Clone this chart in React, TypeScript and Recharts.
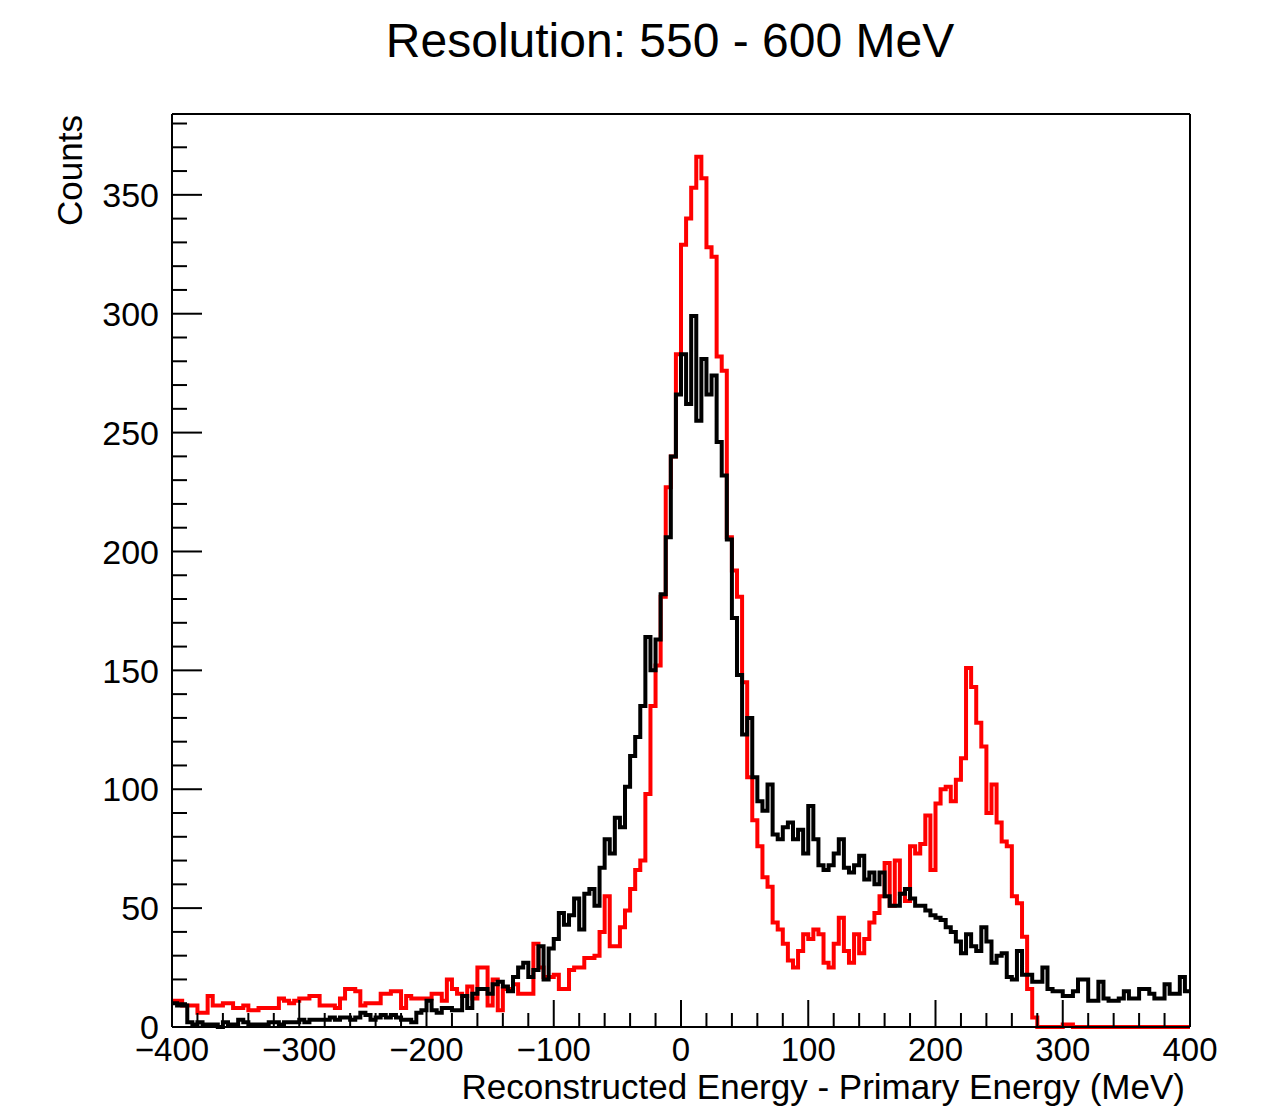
import { LineChart, Line, XAxis, YAxis, ReferenceLine } from "recharts";

// 4 MeV bins from -400 to 400 MeV
const BIN_START = -400;
const BIN_WIDTH = 4;

const RED_COUNTS = [
  11, 11, 9, 9, 9, 6, 6, 13, 9, 9, 10, 10, 8, 8, 9, 7, 7, 8, 8, 8,
  8, 12, 11, 10, 11, 12, 12, 13, 13, 9, 9, 9, 8, 12, 16, 16, 15, 9, 10, 10,
  10, 14, 14, 15, 15, 8, 13, 12, 12, 12, 12, 14, 14, 11, 20, 16, 14, 13, 17, 12,
  25, 25, 9, 20, 7, 16, 16, 18, 14, 14, 14, 35, 25, 21, 21, 22, 16, 16, 24, 25,
  25, 29, 29, 30, 40, 55, 34, 34, 42, 49, 58, 66, 70, 98, 135, 152, 181, 227, 240, 283,
  329, 340, 353, 366, 357, 328, 324, 282, 276, 206, 192, 181, 145, 105, 87, 76, 63, 59, 44, 41,
  35, 28, 25, 32, 39, 37, 41, 39, 27, 25, 35, 46, 32, 27, 39, 31, 37, 44, 48, 55,
  69, 51, 70, 56, 53, 76, 73, 77, 89, 66, 94, 100, 101, 95, 104, 113, 151, 143, 128, 118,
  90, 102, 86, 78, 76, 55, 52, 38, 16, 4, 0, 0, 0, 0, 0, 1, 1, 0, 0, 0,
  0, 0, 0, 0, 0, 0, 0, 0, 0, 0, 0, 0, 0, 0, 0, 0, 0, 0, 0, 0,
];

const BLACK_COUNTS = [
  10, 9, 9, 2, 1, 2, 1, 1, 1, 0, 2, 1, 1, 3, 2, 1, 1, 1, 1, 2,
  2, 1, 2, 2, 2, 3, 2, 3, 3, 3, 3, 4, 3, 4, 4, 3, 4, 6, 5, 3,
  4, 5, 4, 5, 4, 3, 3, 2, 6, 7, 11, 7, 6, 8, 8, 7, 7, 13, 8, 14,
  16, 16, 14, 18, 19, 17, 15, 21, 25, 27, 21, 24, 34, 20, 33, 37, 48, 43, 47, 54,
  41, 56, 58, 51, 67, 79, 73, 88, 84, 101, 114, 122, 135, 164, 150, 163, 182, 206, 240, 266,
  283, 262, 299, 255, 281, 266, 274, 246, 232, 205, 172, 148, 123, 130, 105, 95, 91, 102, 81, 79,
  84, 86, 79, 83, 73, 93, 79, 68, 66, 68, 73, 79, 67, 65, 68, 72, 62, 65, 60, 65,
  55, 51, 51, 56, 58, 54, 51, 51, 49, 47, 46, 45, 42, 40, 36, 31, 39, 34, 32, 42,
  36, 27, 30, 31, 21, 20, 32, 22, 22, 19, 19, 25, 16, 15, 15, 13, 13, 15, 20, 20,
  11, 11, 19, 12, 11, 11, 12, 15, 12, 12, 16, 16, 14, 12, 12, 18, 14, 14, 21, 15,
];

const X_MIN = -400;
const X_MAX = 400;
const Y_MAX = 384;
const X_TICKS = Array.from({ length: 41 }, (_, i) => X_MIN + i * 20);
const Y_TICKS = Array.from({ length: 39 }, (_, i) => i * 10);

const FONT = '"Liberation Sans", Arial, Helvetica, sans-serif';

// histogram edges: each point is a bin's left edge, last point closes the final bin
const chartData = [
  ...RED_COUNTS.map((r, i) => ({
    e: BIN_START + i * BIN_WIDTH,
    red: r,
    black: BLACK_COUNTS[i],
  })),
  {
    e: X_MAX,
    red: RED_COUNTS[RED_COUNTS.length - 1],
    black: BLACK_COUNTS[BLACK_COUNTS.length - 1],
  },
];

const fmt = (v: number) => (v < 0 ? `\u2212${-v}` : `${v}`);

function XTick(props: any) {
  const { x, y, payload } = props;
  const v = payload.value;
  const major = v % 100 === 0;
  return (
    <g>
      <line x1={x} x2={x} y1={y} y2={y - (major ? 27 : 14)} stroke="#000" strokeWidth={2} />
      {major && (
        <text x={x} y={y + 34} textAnchor="middle" fontSize={33} fontFamily={FONT} fill="#000">
          {fmt(v)}
        </text>
      )}
    </g>
  );
}

function YTick(props: any) {
  const { x, y, payload } = props;
  const v = payload.value;
  const major = v % 50 === 0;
  return (
    <g>
      <line x1={x} x2={x + (major ? 30 : 15)} y1={y} y2={y} stroke="#000" strokeWidth={2} />
      {major && (
        <text x={x - 13} y={y} dy="0.36em" textAnchor="end" fontSize={34} fontFamily={FONT} fill="#000">
          {v}
        </text>
      )}
    </g>
  );
}

export default function App() {
  return (
    <div style={{ position: "absolute", left: 0, top: 0, width: 1266, height: 1108, background: "#fff" }}>
      <LineChart
        width={1266}
        height={1108}
        data={chartData}
        margin={{ top: 114, right: 76, bottom: 80, left: 171 }}
      >
        <XAxis
          type="number"
          dataKey="e"
          domain={[X_MIN, X_MAX]}
          ticks={X_TICKS}
          interval={0}
          height={1}
          tickSize={0}
          tickMargin={0}
          tick={(p: any) => <XTick {...p} />}
          axisLine={{ stroke: "#000", strokeWidth: 2 }}
          tickLine={false}
        />
        <YAxis
          type="number"
          domain={[0, Y_MAX]}
          ticks={Y_TICKS}
          interval={0}
          width={1}
          tickSize={0}
          tickMargin={0}
          tick={(p: any) => <YTick {...p} />}
          axisLine={{ stroke: "#000", strokeWidth: 2 }}
          tickLine={false}
        />
        <ReferenceLine y={Y_MAX} stroke="#000" strokeWidth={2} />
        <ReferenceLine x={X_MAX} stroke="#000" strokeWidth={2} />
        <Line
          type="stepAfter"
          dataKey="red"
          stroke="#ff0000"
          strokeWidth={4}
          dot={false}
          isAnimationActive={false}
        />
        <Line
          type="stepAfter"
          dataKey="black"
          stroke="#000000"
          strokeWidth={4}
          dot={false}
          isAnimationActive={false}
        />
      </LineChart>
      <svg
        width={1266}
        height={1108}
        style={{ position: "absolute", left: 0, top: 0, pointerEvents: "none" }}
      >
        <text x={670} y={57} textAnchor="middle" fontSize={48} fontFamily={FONT} fill="#000">
          Resolution: 550 - 600 MeV
        </text>
        <text x={1185} y={1099} textAnchor="end" fontSize={35} fontFamily={FONT} fill="#000">
          Reconstructed Energy - Primary Energy (MeV)
        </text>
        <text
          x={82}
          y={115}
          transform="rotate(-90 82 115)"
          textAnchor="end"
          fontSize={35}
          fontFamily={FONT}
          fill="#000"
        >
          Counts
        </text>
      </svg>
    </div>
  );
}
